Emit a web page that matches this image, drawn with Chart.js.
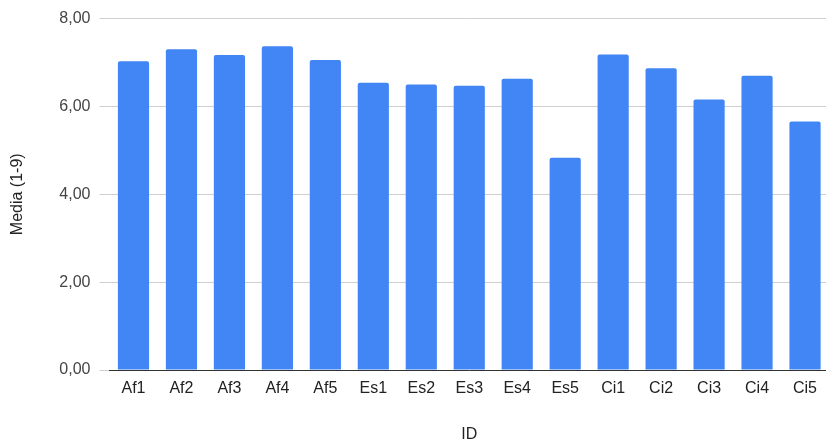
<!DOCTYPE html>
<html>
<head>
<meta charset="utf-8">
<script src="https://cdn.jsdelivr.net/npm/chart.js@4"></script>
<style>
    html, body { margin: 0; padding: 0; background: #fff; overflow: hidden; }
    #wrap { width: 830px; height: 442px; }
</style>
</head>
<body>
<div id="wrap"><canvas id="chart"></canvas></div>
<script>
// Media per ID
const IDS = ['Af1', 'Af2', 'Af3', 'Af4', 'Af5', 'Es1', 'Es2', 'Es3', 'Es4', 'Es5', 'Ci1', 'Ci2', 'Ci3', 'Ci4', 'Ci5'];
const MEDIA = [7.03, 7.30, 7.17, 7.37, 7.06, 6.54, 6.50, 6.47, 6.63, 4.83, 7.18, 6.87, 6.16, 6.70, 5.66];
const Y_TICKS = [0, 2, 4, 6, 8];

const FONT = { family: '"Liberation Sans", Arial, sans-serif', size: 16 };

new Chart(document.getElementById('chart'), {
    type: 'bar',
    data: {
        labels: IDS,
        datasets: [{
            label: 'Media (1-9)',
            data: MEDIA,
            backgroundColor: '#4285f4',
            borderRadius: 2,
            borderSkipped: 'bottom',
            barPercentage: 0.65,
            categoryPercentage: 1
        }]
    },
    options: {
        responsive: true,
        maintainAspectRatio: false,
        animation: false,
        layout: { padding: { top: 11, right: 1, left: 0, bottom: 0 } },
        plugins: {
            legend: { display: false },
            tooltip: { enabled: false }
        },
        scales: {
            x: {
                grid: { display: false, drawTicks: false },
                border: { display: true, color: '#333', width: 1 },
                ticks: { color: '#222', font: FONT, padding: 9, maxRotation: 0 },
                title: { display: true, text: 'ID', color: '#222', font: FONT, padding: { top: 0, bottom: -2 } },
                afterFit: s => { s.height = 72; }
            },
            y: {
                min: 0,
                max: 8,
                afterBuildTicks: s => { s.ticks = Y_TICKS.map(v => ({ value: v })); },
                grid: { color: '#d0d0d0', tickLength: 10, tickColor: '#d0d0d0' },
                border: { display: false },
                ticks: {
                    color: '#444',
                    font: FONT,
                    padding: 9,
                    callback: v => v.toFixed(2).replace('.', ',')
                },
                title: { display: true, text: 'Media (1-9)', color: '#222', font: FONT, padding: 8 },
                afterFit: s => { s.width = 109.5; }
            }
        }
    }
});
</script>
</body>
</html>
